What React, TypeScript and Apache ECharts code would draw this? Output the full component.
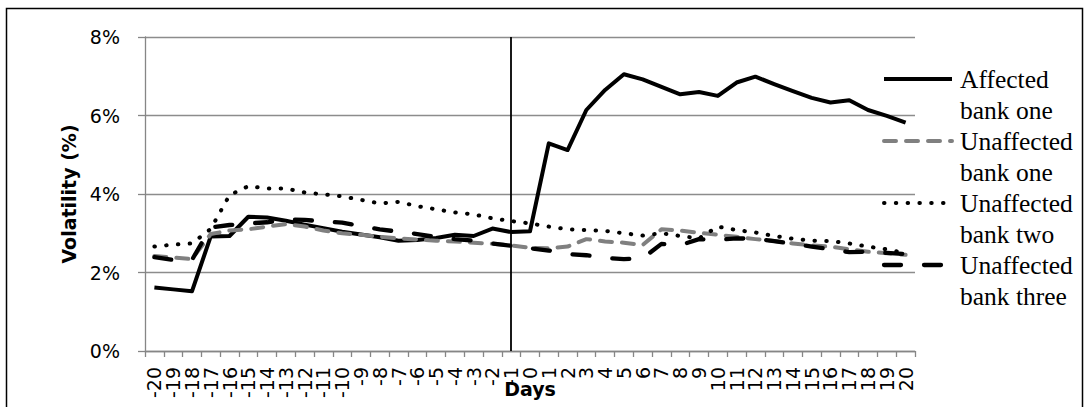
import React, { useEffect, useRef } from "react";
import * as echarts from "echarts";

const days: string[] = [
  "-20", "-19", "-18", "-17", "-16", "-15", "-14", "-13", "-12", "-11",
  "-10", "-9", "-8", "-7", "-6", "-5", "-4", "-3", "-2", "-1",
  "0", "1", "2", "3", "4", "5", "6", "7", "8", "9", "10",
  "11", "12", "13", "14", "15", "16", "17", "18", "19", "20",
];

const affectedBankOne: number[] = [
  1.62, 1.57, 1.52, 2.92, 2.93, 3.42, 3.40, 3.32, 3.22, 3.13,
  3.04, 2.97, 2.90, 2.81, 2.83, 2.88, 2.96, 2.93, 3.12, 3.03,
  3.05, 5.29, 5.12, 6.14, 6.65, 7.05, 6.92, 6.73, 6.54, 6.60, 6.50,
  6.84, 6.99, 6.80, 6.62, 6.45, 6.33, 6.39, 6.14, 5.99, 5.82,
];

const unaffectedBankOne: number[] = [
  2.42, 2.38, 2.34, 2.98, 3.07, 3.10, 3.17, 3.23, 3.17, 3.07,
  3.00, 2.96, 2.91, 2.87, 2.84, 2.81, 2.79, 2.76, 2.73, 2.69,
  2.63, 2.62, 2.66, 2.85, 2.79, 2.76, 2.70, 3.10, 3.07, 3.01, 2.96,
  2.91, 2.85, 2.80, 2.74, 2.69, 2.66, 2.59, 2.53, 2.49, 2.45,
];

const unaffectedBankTwo: number[] = [
  2.66, 2.71, 2.74, 3.11, 3.97, 4.20, 4.14, 4.14, 4.04, 3.99,
  3.94, 3.85, 3.76, 3.80, 3.69, 3.61, 3.53, 3.48, 3.38, 3.31,
  3.25, 3.17, 3.10, 3.08, 3.06, 3.00, 2.94, 3.00, 2.93, 2.87, 3.17,
  3.08, 3.02, 2.93, 2.86, 2.81, 2.80, 2.74, 2.66, 2.59, 2.49,
];

const unaffectedBankThree: number[] = [
  2.39, 2.32, 2.32, 3.15, 3.21, 3.25, 3.28, 3.35, 3.34, 3.30,
  3.27, 3.18, 3.10, 3.04, 2.98, 2.91, 2.85, 2.81, 2.74, 2.68,
  2.62, 2.56, 2.47, 2.44, 2.37, 2.34, 2.36, 2.73, 2.70, 2.85, 2.83,
  2.87, 2.86, 2.80, 2.73, 2.66, 2.59, 2.52, 2.53, 2.50, 2.47,
];

const seriesNames: string[] = [
  "Affected\nbank one",
  "Unaffected\nbank one",
  "Unaffected\nbank two",
  "Unaffected\nbank three",
];

const eventDay = "-1";

const SANS = "'DejaVu Sans', 'Noto Sans', sans-serif";
const SERIF = "'Liberation Serif', 'DejaVu Serif', serif";

const styles = [
  { color: "#000000", width: 4, dash: "solid" as any, cap: "butt" as any },
  { color: "#808080", width: 4, dash: [12, 10], cap: "round" as any },
  { color: "#000000", width: 4, dash: [0.5, 11.3], cap: "round" as any },
  { color: "#000000", width: 4.3, dash: [17, 23], cap: "round" as any },
];

export default function App() {
  const ref = useRef<HTMLDivElement>(null);

  useEffect(() => {
    if (!ref.current) return;
    const chart = echarts.init(ref.current, undefined, { renderer: "svg" });
    const allData = [affectedBankOne, unaffectedBankOne, unaffectedBankTwo, unaffectedBankThree];
    const eventIndex = days.indexOf(eventDay);

    const legendGraphics: any[] = [];
    seriesNames.forEach((name, i) => {
      const cy = 79 + 62 * i;
      const s = styles[i];
      legendGraphics.push({
        type: "line",
        shape: { x1: 884, y1: cy, x2: 952, y2: cy },
        style: {
          stroke: s.color,
          lineWidth: s.width,
          lineDash: s.dash === "solid" ? null : s.dash,
          lineCap: s.cap,
        },
        z: 10,
      });
      legendGraphics.push({
        type: "text",
        x: 960,
        y: cy - 15.5,
        style: {
          text: name,
          fontFamily: SERIF,
          fontSize: 25.5,
          lineHeight: 31,
          fill: "#000",
          verticalAlign: "top",
          align: "left",
        },
        z: 10,
      });
    });

    chart.setOption({
      animation: false,
      backgroundColor: "#ffffff",
      grid: {
        left: 145,
        right: 173,
        top: 37,
        bottom: 56,
        containLabel: false,
        outerBoundsMode: "none",
      },
      xAxis: {
        type: "category",
        data: days,
        boundaryGap: true,
        name: "Days",
        nameLocation: "middle",
        nameGap: 28,
        nameMoveOverlap: false,
        nameTextStyle: { fontFamily: SANS, fontSize: 19, fontWeight: "bold", color: "#000" },
        axisLine: { show: true, lineStyle: { color: "#868686", width: 1.3 } },
        axisTick: { show: true, inside: false, length: 6, interval: 0, lineStyle: { color: "#868686", width: 1.3 } },
        axisLabel: {
          interval: 0,
          rotate: 90,
          margin: 16,
          fontFamily: SANS,
          fontSize: 19,
          color: "#000",
        },
        splitLine: { show: false },
      },
      yAxis: {
        type: "value",
        min: 0,
        max: 8,
        interval: 2,
        name: "Volatility (%)",
        nameLocation: "middle",
        nameGap: 67,
        nameMoveOverlap: false,
        nameTextStyle: { fontFamily: SANS, fontSize: 19, fontWeight: "bold", color: "#000" },
        axisLine: { show: true, lineStyle: { color: "#868686", width: 1.3 } },
        axisTick: { show: true, inside: false, length: 7, lineStyle: { color: "#868686", width: 1.3 } },
        axisLabel: {
          formatter: "{value}%",
          margin: 25,
          fontFamily: SANS,
          fontSize: 19,
          color: "#000",
        },
        splitLine: { show: true, lineStyle: { color: "#8c8c8c", width: 1.3 } },
      },
      graphic: [
        {
          type: "rect",
          shape: { x: 6.5, y: 8.5, width: 1076, height: 420 },
          style: { fill: "none", stroke: "#000", lineWidth: 1.5 },
          z: 20,
        },
        ...legendGraphics,
      ],
      series: seriesNames.map((name, i) => ({
        name,
        type: "line",
        data: allData[i],
        symbol: "none",
        smooth: false,
        lineStyle: {
          color: styles[i].color,
          width: styles[i].width,
          type: styles[i].dash,
          cap: styles[i].cap,
          join: "round",
        },
        z: 2 + i,
        markLine:
          i === 0
            ? {
                silent: true,
                symbol: "none",
                label: { show: false },
                lineStyle: { color: "#000", width: 1.8, type: "solid" },
                data: [{ xAxis: eventIndex }],
              }
            : undefined,
      })),
    });

    return () => chart.dispose();
  }, []);

  return (
    <div
      ref={ref}
      style={{ position: "fixed", left: 0, top: 0, width: 1088, height: 407, background: "#fff" }}
    />
  );
}
